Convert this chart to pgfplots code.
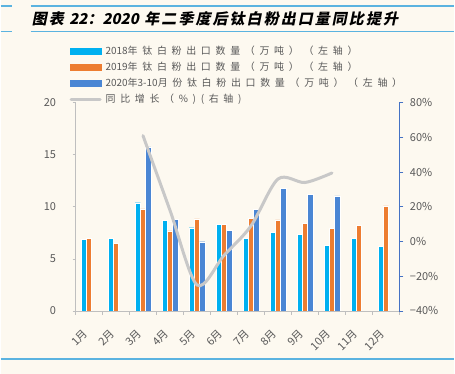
\documentclass[border=0pt]{standalone}
\usepackage{pgfplots}
\pgfplotsset{compat=1.18}
\usepackage{fontspec}
\setmainfont{Noto Sans CJK SC}
\newfontfamily\legfont[LetterSpace=47]{Noto Sans CJK SC}
\newfontfamily\legnum{Noto Sans CJK SC}
\newfontfamily\titlefont[FakeSlant=0.2,LetterSpace=14]{Noto Sans CJK SC}
\newfontfamily\titlenum[FakeSlant=0.2]{Noto Sans CJK SC}
\definecolor{bg}{HTML}{FDF9F0}
\definecolor{c18}{HTML}{00B0F0}
\definecolor{c19}{HTML}{ED7D31}
\definecolor{c20}{HTML}{4A86D4}
\definecolor{lineg}{HTML}{C8C8C8}
\definecolor{axg}{HTML}{BFBFBF}
\definecolor{axb}{HTML}{4472C4}
\definecolor{tl}{HTML}{5BB3E0}
\definecolor{txtg}{HTML}{595959}
\begin{document}
\begin{tikzpicture}[x=1pt,y=1pt]
\fill[bg] (0,0) rectangle (455,375);
\draw[tl, line width=1.2pt] (0,369) -- (11,369);
\draw[tl, line width=1.2pt] (30,369) -- (455,369);
\draw[tl, line width=1.2pt] (0,343) -- (11,343);
\draw[tl, line width=1.2pt] (30,343) -- (455,343);
\draw[tl, line width=1.5pt] (0,15) -- (455,15);
\node[anchor=west, inner sep=0pt] at (31,356) {\titlefont\bfseries\fontsize{15}{18}\selectfont 图表 {\titlenum\bfseries 22}：{\titlenum\bfseries 2020} 年二季度后钛白粉出口量同比提升};
\begin{axis}[at={(75pt,63pt)}, anchor=south west, scale only axis,
  width=325pt, height=209pt,
  xmin=-0.5, xmax=11.5, ymin=0, ymax=20,
  axis x line*=bottom, axis y line*=left,
  axis line style={-, axg, line width=0.8pt},
  ybar=0pt, bar width=5.3pt,
  xtick={0,...,11},
  xticklabels={1月,2月,3月,4月,5月,6月,7月,8月,9月,10月,11月,12月},
  minor xtick={-0.5,0.5,...,11.5},
  major x tick style={draw=none},
  minor x tick style={axg, line width=0.8pt},
  minor tick length=4pt,
  tick align=outside,
  ytick={0,5,...,20},
  ytick style={axg, line width=0.8pt},
  major tick length=3pt,
  /pgf/number format/assume math mode=true,
  tick label style={font=\fontsize{11}{13}\selectfont, text=txtg},
  x tick label style={rotate=45, anchor=east, xshift=-11.5pt, yshift=-10.5pt},
  y tick label style={xshift=-13pt},
]
\addplot[fill=c18, draw=white, line width=0.3pt] coordinates {(0,6.9)(1,7.0)(2,10.4)(3,8.7)(4,8.0)(5,8.3)(6,7.0)(7,7.55)(8,7.35)(9,6.3)(10,7.0)(11,6.2)};
\addplot[fill=c19, draw=white, line width=0.3pt] coordinates {(0,7.0)(1,6.5)(2,9.8)(3,7.7)(4,8.85)(5,8.35)(6,8.9)(7,8.75)(8,8.4)(9,7.95)(10,8.2)(11,10.1)};
\addplot[fill=c20, draw=white, line width=0.3pt] coordinates {(2,15.75)(3,8.8)(4,6.65)(5,7.75)(6,9.75)(7,11.75)(8,11.2)(9,11.05)};
\end{axis}
\begin{axis}[at={(75pt,63pt)}, anchor=south west, scale only axis,
  width=325pt, height=209pt,
  xmin=-0.5, xmax=11.5, ymin=-40, ymax=80,
  axis x line=none, axis y line*=right,
  axis line style={-, axb, line width=0.8pt},
  ytick={-40,-20,0,20,40,60,80},
  yticklabels={−40\%,−20\%,0\%,20\%,40\%,60\%,80\%},
  ytick style={axb, line width=0.8pt},
  tick align=outside, major tick length=4pt,
  tick label style={font=\fontsize{11}{13}\selectfont, text=txtg},
  y tick label style={xshift=3pt},
  legend style={at={(rel axis cs:0,1)}, anchor=north west, xshift=-6pt, yshift=59pt,
    draw=none, fill=none, inner sep=0pt, row sep=2.1pt,
    font=\legfont\fontsize{10}{12}\selectfont, text=txtg,
    /tikz/every odd column/.style={column sep=2pt}},
  legend cell align=left,
]
\addlegendimage{legend image code/.code={\fill[c18] (0pt,-2.7pt) rectangle (31pt,2.7pt);}}
\addlegendentry{{\legnum 2018}年钛白粉出口数量（万吨）（左轴）}
\addlegendimage{legend image code/.code={\fill[c19] (0pt,-2.7pt) rectangle (31pt,2.7pt);}}
\addlegendentry{{\legnum 2019}年钛白粉出口数量（万吨）（左轴）}
\addlegendimage{legend image code/.code={\fill[c20] (0pt,-2.7pt) rectangle (31pt,2.7pt);}}
\addlegendentry{{\legnum 2020}年{\legnum 3-10}月份钛白粉出口数量（万吨）（左轴）}
\addlegendimage{legend image code/.code={\draw[lineg, line width=3pt, line cap=round] (1pt,0pt) -- (30pt,0pt);}}
\addlegendentry{同比增长（\%)(右轴)}
\addplot[lineg, line width=3pt, smooth, line cap=round, forget plot] coordinates {(2,61)(3,18)(4,-25)(5,-8)(6,9)(7,36)(8,34)(9,39.5)};
\end{axis}
\end{tikzpicture}
\end{document}
